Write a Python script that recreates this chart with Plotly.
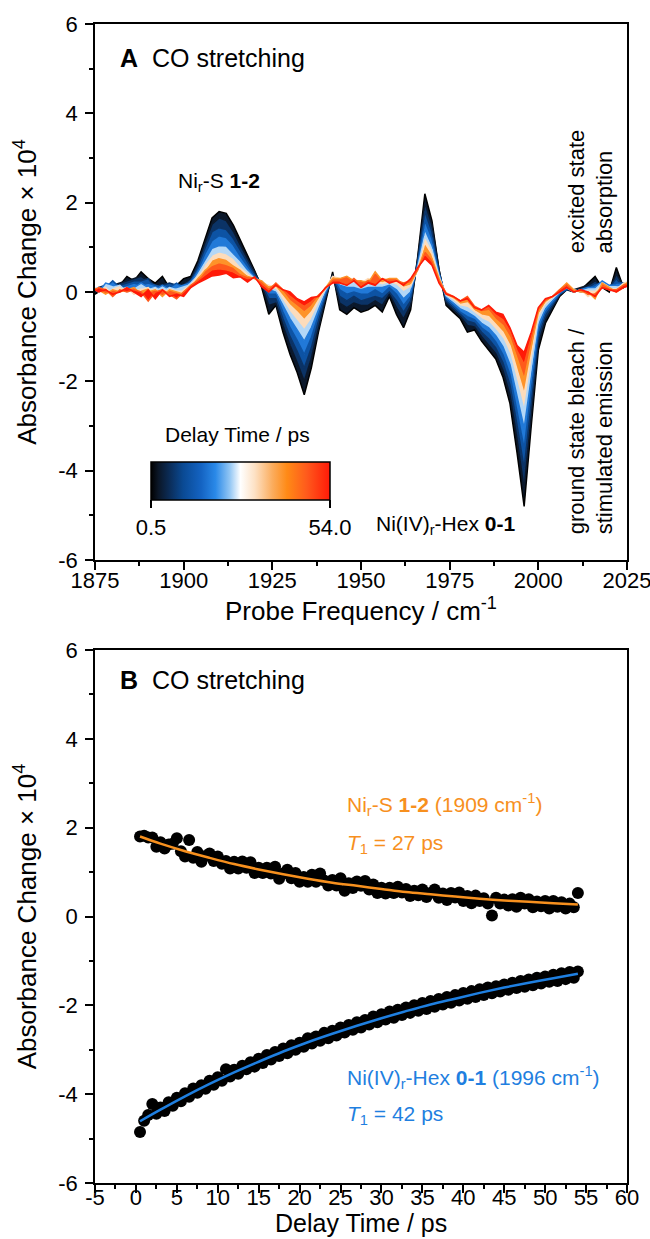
import plotly.graph_objects as go
from plotly.colors import sample_colorscale

# ---------------- Panel A data: transient spectra ----------------
freq = list(range(1874, 2027, 2))  # probe frequency grid / cm-1
delays = [0.5, 3, 7, 12, 18, 25, 32, 40, 47, 54]  # ps

spec_0p5 = [-0.10, 0.00, 0.10, 0.05, 0.15, 0.35, 0.25, 0.45, 0.30, 0.20, 0.35,
            0.10, 0.15, 0.30, 0.35, 0.70, 1.20, 1.66, 1.80, 1.76, 1.50, 1.16,
            0.82, 0.48, 0.10, -0.50, -0.30, -0.90, -1.40, -1.80, -2.30, -1.70, -0.90,
            -0.20, 0.45, -0.40, -0.50, -0.35, -0.45, -0.40, -0.30, -0.45, -0.10, -0.50,
            -0.80, -0.40, 0.80, 2.20, 1.60, 0.50, -0.30, -0.45, -0.60, -0.90, -0.85,
            -1.10, -1.30, -1.50, -1.90, -2.50, -3.60, -4.80, -3.00, -1.30, -0.70, -0.40,
            -0.10, 0.05, 0.00, 0.05, 0.20, 0.35, 0.10, 0.00, 0.55, 0.10, 0.20]
spec_3 = [-0.05, 0.05, 0.05, 0.15, 0.20, 0.25, 0.30, 0.35, 0.25, 0.15, 0.20,
          0.15, 0.10, 0.20, 0.30, 0.62, 1.10, 1.52, 1.66, 1.60, 1.36, 1.05,
          0.74, 0.44, 0.15, -0.30, -0.25, -0.75, -1.20, -1.58, -2.00, -1.48, -0.78,
          -0.15, 0.40, -0.25, -0.35, -0.25, -0.30, -0.30, -0.20, -0.30, -0.05, -0.35,
          -0.60, -0.30, 0.75, 2.00, 1.50, 0.50, -0.25, -0.40, -0.55, -0.75, -0.78,
          -1.00, -1.18, -1.38, -1.75, -2.30, -3.30, -4.40, -2.75, -1.15, -0.62, -0.35,
          -0.08, 0.05, 0.05, 0.10, 0.15, 0.25, 0.15, 0.05, 0.40, 0.15, 0.15]
spec_7 = [0.00, 0.10, 0.15, 0.10, 0.15, 0.20, 0.25, 0.25, 0.30, 0.10, 0.15,
          0.20, 0.15, 0.15, 0.25, 0.58, 0.98, 1.35, 1.44, 1.40, 1.20, 0.94,
          0.66, 0.40, 0.18, -0.15, -0.15, -0.60, -1.00, -1.33, -1.70, -1.25, -0.65,
          -0.10, 0.35, -0.10, -0.20, -0.10, -0.20, -0.15, -0.10, -0.15, 0.00, -0.20,
          -0.45, -0.20, 0.70, 1.80, 1.35, 0.45, -0.20, -0.35, -0.50, -0.65, -0.70,
          -0.90, -1.05, -1.25, -1.58, -2.08, -2.98, -3.95, -2.48, -1.00, -0.52, -0.30,
          -0.05, 0.10, 0.00, 0.05, 0.10, 0.20, 0.10, 0.10, 0.30, 0.10, 0.25]
spec_12 = [0.05, 0.05, 0.10, 0.25, 0.10, 0.15, 0.20, 0.15, 0.20, 0.15, 0.10,
           0.10, 0.20, 0.10, 0.25, 0.48, 0.86, 1.15, 1.26, 1.22, 1.05, 0.80,
           0.58, 0.36, 0.20, -0.05, -0.05, -0.45, -0.80, -1.08, -1.40, -1.02, -0.52,
           -0.05, 0.35, 0.05, -0.05, 0.00, -0.05, -0.05, 0.05, -0.05, 0.10, -0.05,
           -0.30, -0.10, 0.65, 1.60, 1.20, 0.42, -0.15, -0.30, -0.45, -0.55, -0.62,
           -0.80, -0.92, -1.12, -1.40, -1.85, -2.65, -3.50, -2.20, -0.88, -0.45, -0.25,
           -0.05, 0.05, 0.05, 0.00, 0.05, 0.15, 0.20, 0.05, 0.20, 0.20, 0.20]
spec_18 = [0.10, 0.00, 0.20, 0.15, 0.05, 0.10, 0.10, 0.20, 0.10, 0.05, 0.15,
           0.05, 0.10, 0.15, 0.20, 0.45, 0.70, 0.98, 1.04, 1.03, 0.86, 0.70,
           0.50, 0.32, 0.22, 0.05, 0.00, -0.30, -0.60, -0.85, -1.10, -0.80, -0.40,
           0.00, 0.30, 0.15, 0.10, 0.10, 0.05, 0.10, 0.10, 0.10, 0.15, 0.05,
           -0.15, 0.00, 0.60, 1.40, 1.05, 0.40, -0.10, -0.25, -0.38, -0.45, -0.55,
           -0.70, -0.80, -0.98, -1.22, -1.62, -2.32, -3.05, -1.92, -0.75, -0.38, -0.20,
           -0.02, 0.10, 0.00, 0.05, 0.10, 0.10, 0.25, 0.15, 0.15, 0.10, 0.30]
spec_25 = [0.05, 0.10, 0.00, 0.10, 0.15, 0.00, 0.05, 0.10, 0.05, 0.10, 0.00,
           0.10, 0.05, 0.05, 0.20, 0.36, 0.63, 0.83, 0.90, 0.86, 0.76, 0.58,
           0.45, 0.30, 0.25, 0.10, 0.05, -0.20, -0.45, -0.65, -0.85, -0.62, -0.30,
           0.05, 0.30, 0.25, 0.20, 0.20, 0.15, 0.15, 0.20, 0.15, 0.20, 0.15,
           0.00, 0.10, 0.55, 1.25, 0.95, 0.35, -0.08, -0.20, -0.32, -0.35, -0.48,
           -0.60, -0.68, -0.85, -1.05, -1.40, -2.02, -2.65, -1.65, -0.62, -0.30, -0.15,
           0.00, 0.15, 0.05, 0.00, 0.05, 0.05, 0.20, 0.10, 0.10, 0.15, 0.20]
spec_32 = [0.15, 0.00, 0.10, -0.05, 0.05, 0.10, -0.05, 0.05, 0.10, -0.05, 0.05,
           0.00, -0.10, 0.05, 0.15, 0.35, 0.50, 0.72, 0.78, 0.74, 0.62, 0.52,
           0.38, 0.28, 0.20, 0.15, 0.10, -0.10, -0.30, -0.45, -0.62, -0.45, -0.20,
           0.08, 0.35, 0.30, 0.25, 0.30, 0.20, 0.30, 0.25, 0.20, 0.25, 0.25,
           0.10, 0.15, 0.50, 1.10, 0.85, 0.32, -0.05, -0.15, -0.28, -0.25, -0.42,
           -0.52, -0.55, -0.72, -0.90, -1.20, -1.75, -2.28, -1.42, -0.52, -0.25, -0.12,
           0.02, 0.10, 0.00, 0.05, -0.10, 0.00, 0.15, 0.05, 0.05, 0.20, 0.25]
spec_40 = [0.10, 0.05, -0.05, 0.05, 0.00, 0.05, 0.10, -0.05, 0.00, 0.05, -0.10,
           0.05, 0.00, -0.05, 0.10, 0.27, 0.48, 0.60, 0.66, 0.62, 0.56, 0.42,
           0.35, 0.30, 0.25, 0.10, 0.15, 0.00, -0.20, -0.32, -0.45, -0.32, -0.12,
           0.10, 0.30, 0.30, 0.35, 0.25, 0.25, 0.20, 0.45, 0.25, 0.30, 0.30,
           0.15, 0.20, 0.50, 0.95, 0.75, 0.30, -0.05, -0.12, -0.22, -0.15, -0.38,
           -0.45, -0.42, -0.62, -0.75, -1.02, -1.50, -1.95, -1.20, -0.45, -0.20, -0.10,
           0.05, 0.20, 0.05, 0.00, 0.00, -0.15, 0.20, 0.10, 0.00, 0.10, 0.30]
spec_47 = [0.00, 0.10, 0.05, -0.10, 0.05, 0.00, 0.05, 0.00, -0.20, 0.00, 0.05,
           -0.05, -0.15, 0.00, 0.15, 0.26, 0.38, 0.50, 0.52, 0.50, 0.45, 0.36,
           0.30, 0.32, 0.18, 0.05, 0.20, 0.05, -0.10, -0.22, -0.32, -0.22, -0.08,
           0.08, 0.25, 0.25, 0.15, 0.30, 0.15, 0.25, 0.20, 0.30, 0.25, 0.25,
           0.20, 0.25, 0.50, 0.85, 0.68, 0.25, -0.02, -0.10, -0.20, -0.10, -0.32,
           -0.40, -0.35, -0.52, -0.62, -0.88, -1.32, -1.62, -1.02, -0.38, -0.18, -0.10,
           0.05, 0.15, 0.00, 0.05, -0.05, -0.05, 0.10, 0.05, 0.05, 0.15, 0.20]
spec_54 = [0.10, 0.00, 0.05, -0.05, 0.00, 0.10, 0.00, -0.10, 0.05, -0.15, 0.05,
           -0.10, -0.05, -0.10, 0.10, 0.20, 0.28, 0.36, 0.38, 0.42, 0.32, 0.34,
           0.22, 0.34, 0.12, 0.00, 0.15, 0.05, 0.00, -0.15, -0.22, -0.12, -0.10,
           0.10, 0.20, 0.20, 0.15, 0.25, 0.10, 0.20, 0.15, 0.30, 0.20, 0.25,
           0.15, 0.30, 0.55, 0.75, 0.60, 0.20, -0.05, -0.10, -0.20, -0.15, -0.35,
           -0.40, -0.30, -0.45, -0.50, -0.80, -1.20, -1.35, -0.90, -0.35, -0.15, -0.10,
           0.00, 0.10, 0.00, 0.05, 0.00, -0.10, 0.10, 0.05, 0.00, 0.10, 0.15]
spectra = [spec_0p5, spec_3, spec_7, spec_12, spec_18, spec_25, spec_32, spec_40, spec_47, spec_54]

# ---------------- Panel B data: kinetics ----------------
delay_t = [round(0.5 * i, 1) for i in range(1, 109)]
kin_1909 = [1.80, 1.82, 1.78, 1.78, 1.57, 1.67, 1.53, 1.62, 1.64, 1.76,
            1.47, 1.35, 1.72, 1.32, 1.45, 1.23, 1.36, 1.42, 1.25, 1.35,
            1.19, 1.25, 1.08, 1.23, 1.08, 1.24, 1.10, 1.22, 0.98, 1.10,
            0.98, 1.10, 0.97, 1.12, 0.85, 0.97, 1.05, 0.86, 0.98, 0.78,
            0.89, 0.78, 0.94, 0.78, 0.97, 0.81, 0.70, 0.82, 0.70, 0.86,
            0.58, 0.75, 0.64, 0.79, 0.69, 0.80, 0.61, 0.72, 0.53, 0.65,
            0.52, 0.65, 0.53, 0.67, 0.54, 0.62, 0.46, 0.58, 0.48, 0.61,
            0.44, 0.53, 0.61, 0.42, 0.52, 0.37, 0.53, 0.43, 0.54, 0.35,
            0.46, 0.30, 0.47, 0.35, 0.41, 0.29, 0.02, 0.42, 0.29, 0.38,
            0.25, 0.39, 0.22, 0.42, 0.29, 0.39, 0.21, 0.34, 0.23, 0.35,
            0.18, 0.35, 0.22, 0.32, 0.18, 0.29, 0.21, 0.53]
kin_1996 = [-4.85, -4.60, -4.47, -4.22, -4.44, -4.30, -4.38, -4.18, -4.26, -4.08,
            -4.16, -3.98, -4.06, -3.87, -3.97, -3.80, -3.88, -3.70, -3.79, -3.62,
            -3.70, -3.44, -3.60, -3.45, -3.54, -3.36, -3.44, -3.28, -3.38, -3.20,
            -3.30, -3.12, -3.22, -3.05, -3.14, -2.97, -3.08, -2.90, -3.00, -2.84,
            -2.93, -2.74, -2.86, -2.70, -2.80, -2.62, -2.74, -2.57, -2.68, -2.50,
            -2.61, -2.44, -2.55, -2.38, -2.50, -2.33, -2.43, -2.25, -2.38, -2.20,
            -2.32, -2.14, -2.28, -2.10, -2.22, -2.05, -2.17, -2.00, -2.12, -1.95,
            -2.08, -1.90, -2.03, -1.86, -1.98, -1.81, -1.94, -1.77, -1.89, -1.72,
            -1.85, -1.68, -1.81, -1.64, -1.77, -1.60, -1.73, -1.57, -1.69, -1.53,
            -1.65, -1.49, -1.61, -1.45, -1.58, -1.42, -1.55, -1.38, -1.51, -1.35,
            -1.47, -1.31, -1.45, -1.28, -1.41, -1.25, -1.38, -1.24]
fit_t = [0.5, 3, 6, 9, 12, 15, 18, 21, 24, 27, 30, 33, 36, 39, 42, 45, 48, 51, 54]
fit_1909 = [1.80, 1.64, 1.47, 1.32, 1.18, 1.06, 0.95, 0.85, 0.76, 0.69,
            0.62, 0.55, 0.50, 0.45, 0.40, 0.36, 0.33, 0.30, 0.27]
fit_1996 = [-4.61, -4.35, -4.05, -3.77, -3.51, -3.27, -3.04, -2.83, -2.64, -2.46,
            -2.29, -2.13, -1.98, -1.85, -1.72, -1.60, -1.49, -1.39, -1.29]

# tick labels (plain hyphen minus signs as in the original)
y_ticks = [-6, -4, -2, 0, 2, 4, 6]
y_ticklabels = ["-6", "-4", "-2", "0", "2", "4", "6"]
freq_ticks = [1875, 1900, 1925, 1950, 1975, 2000, 2025]
freq_ticklabels = ["1875", "1900", "1925", "1950", "1975", "2000", "2025"]
delay_ticks = [-5, 0, 5, 10, 15, 20, 25, 30, 35, 40, 45, 50, 55, 60]
delay_ticklabels = ["-5", "0", "5", "10", "15", "20", "25", "30", "35", "40", "45", "50", "55", "60"]

# ---------------- styling ----------------
FONT = "Liberation Sans, Arial, sans-serif"
ORANGE = "#f7901e"
BLUE = "#1f7fe0"
colorscale = [
    [0.00, "#000000"], [0.04, "#0b1626"], [0.10, "#0b2b55"], [0.18, "#0a4a94"],
    [0.28, "#1463c2"], [0.36, "#2a89e8"], [0.44, "#92c6f4"], [0.50, "#ffffff"],
    [0.58, "#fde1c4"], [0.68, "#fbac5c"], [0.76, "#ff8a16"], [0.87, "#ff5a1c"],
    [1.00, "#ff1a08"],
]
tmin, tmax = 0.5, 54.0
line_colors = sample_colorscale(colorscale, [(t - tmin) / (tmax - tmin) for t in delays])

fig = go.Figure()

for i, (spec, col) in enumerate(zip(spectra, line_colors)):
    fig.add_trace(go.Scatter(
        x=freq, y=spec, mode="lines",
        line=dict(color=col, width=1.5),
        fill="tonexty" if i > 0 else "none", fillcolor=col,
        xaxis="x", yaxis="y", showlegend=False, hoverinfo="skip"))

# colour bar carrier (point outside the visible range)
fig.add_trace(go.Scatter(
    x=[1900], y=[-100], mode="markers", xaxis="x", yaxis="y", showlegend=False,
    marker=dict(color=[tmin], colorscale=colorscale, cmin=tmin, cmax=tmax, showscale=True,
                colorbar=dict(orientation="h", thickness=38, thicknessmode="pixels",
                              len=179, lenmode="pixels", x=240.5 / 650, xanchor="center",
                              y=1 - 462 / 1239, yanchor="top", xpad=0, ypad=0,
                              outlinewidth=1.5, outlinecolor="black",
                              tickvals=[tmin, tmax], ticktext=["0.5", "54.0"],
                              ticks="outside", ticklen=8, tickwidth=1.5, tickcolor="black",
                              tickfont=dict(family=FONT, size=22, color="black"))),
    hoverinfo="skip"))

# panel B
fig.add_trace(go.Scatter(x=delay_t, y=kin_1909, mode="markers", xaxis="x2", yaxis="y2",
                         marker=dict(color="black", size=12), showlegend=False))
fig.add_trace(go.Scatter(x=delay_t, y=kin_1996, mode="markers", xaxis="x2", yaxis="y2",
                         marker=dict(color="black", size=12), showlegend=False))
fig.add_trace(go.Scatter(x=fit_t, y=fit_1909, mode="lines", line=dict(color=ORANGE, width=2.5, shape="spline"),
                         xaxis="x2", yaxis="y2", showlegend=False))
fig.add_trace(go.Scatter(x=fit_t, y=fit_1996, mode="lines", line=dict(color=BLUE, width=2.5, shape="spline"),
                         xaxis="x2", yaxis="y2", showlegend=False))

axis_common = dict(showline=True, linecolor="black", linewidth=1.8, mirror=True,
                   ticks="outside", ticklen=8, tickwidth=1.5, tickcolor="black",
                   showgrid=False, zeroline=False, automargin=False, ticklabeloverflow="allow",
                   tickfont=dict(family=FONT, size=22, color="black"))
minor_common = dict(ticks="outside", ticklen=4, tickwidth=1.5, tickcolor="black")
xdom = [95 / 650, 627 / 650]
TITLE_FONT = dict(family=FONT, size=26, color="black")

fig.update_layout(
    width=650, height=1239, margin=dict(l=0, r=0, t=0, b=0),
    paper_bgcolor="white", plot_bgcolor="white",
    font=dict(family=FONT, color="black"),
    xaxis=dict(domain=xdom, range=[1875, 2025], tickmode="array", tickvals=freq_ticks, ticktext=freq_ticklabels,
               minor=dict(dtick=12.5, tick0=1875, **minor_common), ticklabelstandoff=-8,
               title=dict(text="Probe Frequency / cm<sup>-1</sup>", font=TITLE_FONT, standoff=0),
               anchor="y", **axis_common),
    yaxis=dict(domain=[1 - 560 / 1239, 1 - 24 / 1239], range=[-6, 6], tickmode="array",
               tickvals=y_ticks, ticktext=y_ticklabels, ticklabelstandoff=3,
               minor=dict(dtick=1, tick0=0, **minor_common),
               title=dict(text="Absorbance Change × 10<sup>4</sup>", font=TITLE_FONT, standoff=14),
               anchor="x", **axis_common),
    xaxis2=dict(domain=xdom, range=[-5, 60], tickmode="array", tickvals=delay_ticks, ticktext=delay_ticklabels,
                minor=dict(dtick=2.5, tick0=0, **minor_common), ticklabelstandoff=-14,
                anchor="y2", **axis_common),
    yaxis2=dict(domain=[1 - 1183 / 1239, 1 - 650 / 1239], range=[-6, 6], tickmode="array",
                tickvals=y_ticks, ticktext=y_ticklabels, ticklabelstandoff=3,
                minor=dict(dtick=1, tick0=0, **minor_common),
                title=dict(text="Absorbance Change × 10<sup>4</sup>", font=TITLE_FONT, standoff=14),
                anchor="x2", **axis_common),
)

def ann(text, x, y, xref, yref, size=21, color="black", xanchor="left", yanchor="middle", angle=0, yshift=0):
    fig.add_annotation(text=text, x=x, y=y, xref=xref, yref=yref, showarrow=False,
                       xanchor=xanchor, yanchor=yanchor, textangle=angle, yshift=yshift,
                       font=dict(family=FONT, size=size, color=color))

NB = "\u00a0\u00a0"
# Panel A annotations
ann("<b>A</b>" + NB + "CO stretching", 1881.5, 5.24, "x", "y", size=25)
ann("Ni<sub>r</sub>-S <b>1-2</b>", 1910.1, 2.46, "x", "y", xanchor="center")
ann("Ni(IV)<sub>r</sub>-Hex <b>0-1</b>", 1953.7, -5.22, "x", "y")
ann("Delay Time / ps", 1915.3, -3.2, "x", "y", xanchor="center")
ann("excited state", 2011.0, 0.83, "x", "y", size=22, xanchor="center", yanchor="bottom", angle=-90)
ann("absorption", 2018.5, 0.83, "x", "y", size=22, xanchor="center", yanchor="bottom", angle=-90)
ann("ground state bleach /", 2011.0, -5.46, "x", "y", size=22, xanchor="center", yanchor="bottom", angle=-90)
ann("stimulated emission", 2018.5, -5.46, "x", "y", size=22, xanchor="center", yanchor="bottom", angle=-90)

# Panel B annotations
ann("<b>B</b>" + NB + "CO stretching", -2.19, 5.32, "x2", "y2", size=25)
ann("Ni<sub>r</sub>-S <b>1-2</b> (1909 cm<sup>-1</sup>)", 25.5, 2.52, "x2", "y2", color=ORANGE)
ann("<i>T</i><sub>1</sub> = 27 ps", 25.5, 1.64, "x2", "y2", color=ORANGE)
ann("Ni(IV)<sub>r</sub>-Hex <b>0-1</b> (1996 cm<sup>-1</sup>)", 25.5, -3.63, "x2", "y2", color=BLUE)
ann("<i>T</i><sub>1</sub> = 42 ps", 25.5, -4.46, "x2", "y2", color=BLUE)
# bottom axis title of panel B, sitting at the lower edge of the figure
ann("Delay Time / ps", 0.5 * (xdom[0] + xdom[1]), 0, "paper", "paper", size=25,
    xanchor="center", yanchor="bottom", yshift=0)

fig.write_html("out.html", config={"displayModeBar": False},
               post_script="document.body.style.margin='0px';document.body.style.overflow='hidden';")
